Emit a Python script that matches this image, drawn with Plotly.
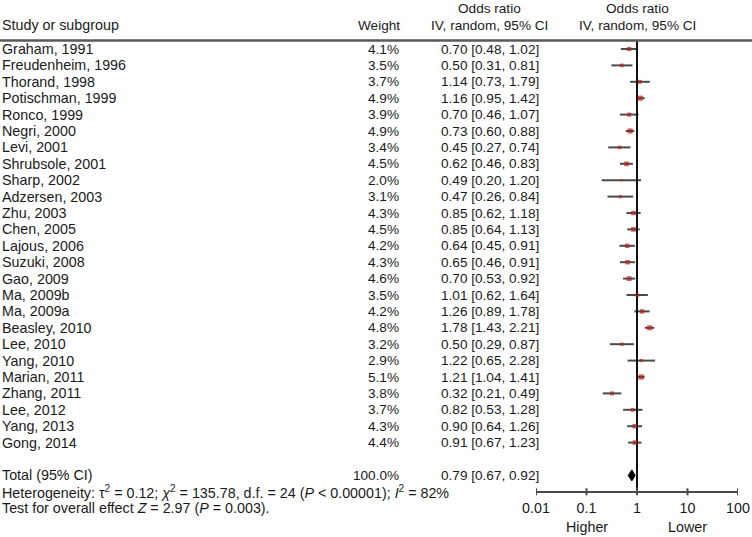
import math
import plotly.graph_objects as go

studies = ["Graham, 1991", "Freudenheim, 1996", "Thorand, 1998", "Potischman, 1999",
           "Ronco, 1999", "Negri, 2000", "Levi, 2001", "Shrubsole, 2001", "Sharp, 2002",
           "Adzersen, 2003", "Zhu, 2003", "Chen, 2005", "Lajous, 2006", "Suzuki, 2008",
           "Gao, 2009", "Ma, 2009b", "Ma, 2009a", "Beasley, 2010", "Lee, 2010",
           "Yang, 2010", "Marian, 2011", "Zhang, 2011", "Lee, 2012", "Yang, 2013",
           "Gong, 2014"]
weights = [4.1, 3.5, 3.7, 4.9, 3.9, 4.9, 3.4, 4.5, 2.0, 3.1, 4.3, 4.5, 4.2, 4.3,
           4.6, 3.5, 4.2, 4.8, 3.2, 2.9, 5.1, 3.8, 3.7, 4.3, 4.4]
odds = [0.70, 0.50, 1.14, 1.16, 0.70, 0.73, 0.45, 0.62, 0.49, 0.47, 0.85, 0.85, 0.64,
        0.65, 0.70, 1.01, 1.26, 1.78, 0.50, 1.22, 1.21, 0.32, 0.82, 0.90, 0.91]
ci_low = [0.48, 0.31, 0.73, 0.95, 0.46, 0.60, 0.27, 0.46, 0.20, 0.26, 0.62, 0.64, 0.45,
          0.46, 0.53, 0.62, 0.89, 1.43, 0.29, 0.65, 1.04, 0.21, 0.53, 0.64, 0.67]
ci_high = [1.02, 0.81, 1.79, 1.42, 1.07, 0.88, 0.74, 0.83, 1.20, 0.84, 1.18, 1.13, 0.91,
           0.91, 0.92, 1.64, 1.78, 2.21, 0.87, 2.28, 1.41, 0.49, 1.28, 1.26, 1.23]

total_label = "Total (95% CI)"
total_weight = 100.0
total_or = 0.79
total_low = 0.67
total_high = 0.92

het_text = ("Heterogeneity: τ<sup>2</sup> = 0.12; <i>χ</i><sup>2</sup> = 135.78, d.f. = 24 "
            "(<i>P</i> &lt; 0.00001); <i>I</i><sup>2</sup> = 82%")
test_text = "Test for overall effect <i>Z</i> = 2.97 (<i>P</i> = 0.003)."

tick_vals = [0.01, 0.1, 1, 10, 100]
tick_text = ["0.01", "0.1", "1", "10", "100"]
favour_labels = ["Higher", "Lower"]
favour_pos = [0.1, 10]

W, H = 752, 537
ROW0_PX, ROW_PX = 49.0, 16.4
FONT = "Liberation Sans, Arial, Helvetica, sans-serif"
FS = 14.3
FSN = 13.6
TXT = "#1a1a1a"

n = len(studies)
rows = list(range(n))
total_row = n + 1
het_row = n + 2
test_row = n + 3
axis_row = n + 2
header_line_row = -0.52

fig = go.Figure()

# CI lines
xs, ys = [], []
for i in rows:
    xs += [ci_low[i], ci_high[i], None]
    ys += [i, i, None]
fig.add_trace(go.Scatter(x=xs, y=ys, mode="lines", line=dict(color="#4a4a4a", width=2),
                         hoverinfo="skip", showlegend=False))

# vertical line of no effect
fig.add_trace(go.Scatter(x=[1, 1], y=[header_line_row, axis_row], mode="lines",
                         line=dict(color="#111111", width=2), hoverinfo="skip",
                         showlegend=False))

# squares
fig.add_trace(go.Scatter(x=odds, y=rows, mode="markers",
                         marker=dict(symbol="square", color="#b3221c",
                                     size=[w * 1.05 for w in weights], line=dict(width=0)),
                         hoverinfo="skip", showlegend=False))

# diamond
dh = 5.5 / ROW_PX
fig.add_trace(go.Scatter(x=[total_low, total_or, total_high, total_or, total_low],
                         y=[total_row, total_row - dh, total_row, total_row + dh, total_row],
                         mode="lines", fill="toself", fillcolor="#000000",
                         line=dict(color="#000000", width=1), hoverinfo="skip",
                         showlegend=False))

# axis ticks (crossing)
tx, ty = [], []
tl = 3.5 / ROW_PX
for v in tick_vals:
    tx += [v, v, None]
    ty += [axis_row - tl, axis_row + tl, None]
fig.add_trace(go.Scatter(x=tx, y=ty, mode="lines", line=dict(color="#4a4a4a", width=2),
                         hoverinfo="skip", showlegend=False))

ann = []
def A(text, xpx, y, anchor, size=FS, **kw):
    ann.append(dict(text=text, x=xpx / W, xref="paper", y=y, yref="y", xanchor=anchor,
                    yanchor="middle", showarrow=False, borderpad=0,
                    font=dict(family=FONT, size=size, color=TXT), **kw))

# headers
A("Study or subgroup", 1, -1.46, "left")
A("Weight", 401, -1.46, "right", size=FSN)
A("Odds ratio", 490, -2.44, "center", size=FSN)
A("IV, random, 95% CI", 490, -1.46, "center", size=FSN)
for txt, yy in [("Odds ratio", -2.44), ("IV, random, 95% CI", -1.46)]:
    ann.append(dict(text=txt, x=math.log10(1), xref="x", y=yy, yref="y", xanchor="center",
                    yanchor="middle", showarrow=False, borderpad=0,
                    font=dict(family=FONT, size=FSN, color=TXT)))

for i in rows:
    A(studies[i], 1, i, "left")
    A(f"{weights[i]:.1f}%", 400, i, "right", size=FSN)
    A(f"{odds[i]:.2f} [{ci_low[i]:.2f}, {ci_high[i]:.2f}]", 490, i, "center", size=FSN)

A(total_label, 1, total_row, "left")
A(f"{total_weight:.1f}%", 400, total_row, "right", size=FSN)
A(f"{total_or:.2f} [{total_low:.2f}, {total_high:.2f}]", 490, total_row, "center", size=FSN)
A(het_text, 1, het_row, "left")
A(test_text, 1, test_row, "left")

for lab, pos in zip(favour_labels, favour_pos):
    ann.append(dict(text=lab, x=math.log10(pos), xref="x", y=(527 - ROW0_PX) / ROW_PX,
                    yref="y", xanchor="center", yanchor="middle", showarrow=False,
                    borderpad=0, font=dict(family=FONT, size=FS, color=TXT)))

y_top = -ROW0_PX / ROW_PX
y_bot = (H - ROW0_PX) / ROW_PX
axis_px = ROW0_PX + axis_row * ROW_PX

fig.update_layout(
    width=W, height=H, margin=dict(l=0, r=0, t=0, b=0, autoexpand=False),
    paper_bgcolor="white", plot_bgcolor="white",
    annotations=ann,
    shapes=[dict(type="line", xref="paper", yref="y", x0=0, x1=1,
                 y0=header_line_row, y1=header_line_row,
                 line=dict(color="#5a5a5a", width=2.5))],
    xaxis=dict(type="log", range=[-2, 2], domain=[536 / W, 738 / W],
               anchor="free", position=1 - axis_px / H, automargin=False,
               showline=True, linecolor="#4a4a4a", linewidth=2,
               showgrid=False, zeroline=False, ticks="",
               tickvals=tick_vals, ticktext=tick_text, ticklabelstandoff=3,
               tickfont=dict(family=FONT, size=FS, color=TXT), fixedrange=True),
    yaxis=dict(range=[y_bot, y_top], domain=[0, 1], visible=False, fixedrange=True,
               automargin=False),
    showlegend=False,
)

fig.write_html("out.html", config={"displayModeBar": False},
               post_script="document.body.style.margin='0px';document.body.style.overflow='hidden';")
